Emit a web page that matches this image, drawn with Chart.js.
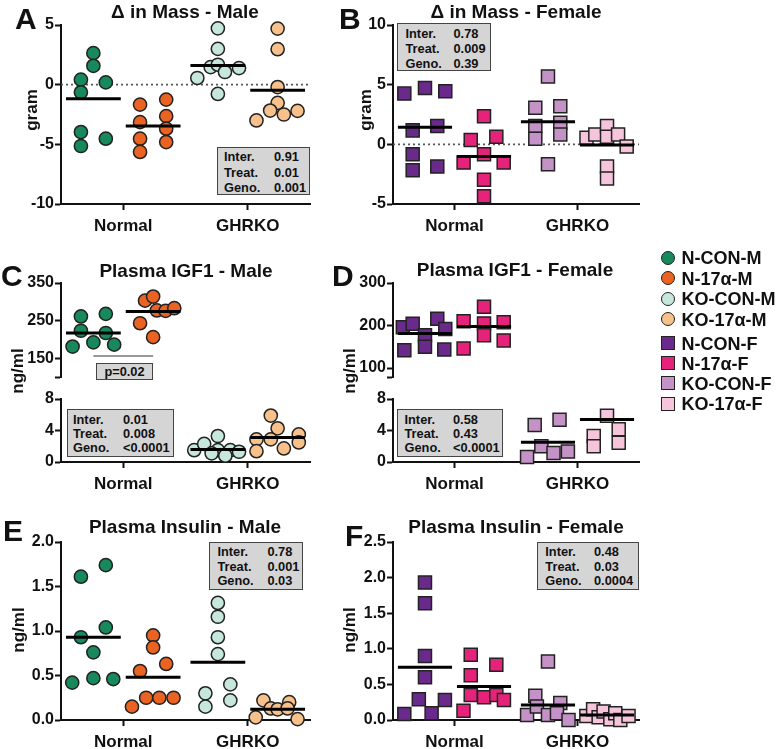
<!DOCTYPE html>
<html><head><meta charset="utf-8">
<script src="https://cdn.jsdelivr.net/npm/chart.js@4.4.0/dist/chart.umd.min.js"></script>
<style>
body{margin:0;background:#fff;}
#wrap{position:relative;width:780px;height:749px;overflow:hidden;font-family:'Liberation Sans',Arial,sans-serif;color:#111;}
canvas{position:absolute;}
.t{position:absolute;font-weight:bold;white-space:nowrap;line-height:1;}
.title{font-size:19px;transform:translateX(-50%);}
.letter{font-size:30px;}
.ylab{font-size:17px;transform:translate(-50%,-50%) rotate(-90deg);}
.box{position:absolute;background:#d5d5d5;border:1px solid #444;box-sizing:border-box;font-size:12.8px;font-weight:bold;white-space:nowrap;}
.box span{display:inline-block;}
.leg{position:absolute;font-size:18px;font-weight:bold;line-height:1;white-space:nowrap;}
.mk{position:absolute;width:12px;height:12px;border:1.4px solid #222;}
</style></head>
<body><div id="wrap"></div>
<script>
// ---------- data ----------
const categories = ['Normal', 'GHRKO'];
const maleGroups = ['N-CON-M', 'N-17α-M', 'KO-CON-M', 'KO-17α-M'];
const femaleGroups = ['N-CON-F', 'N-17α-F', 'KO-CON-F', 'KO-17α-F'];
const maleColors = ['#17895c', '#ea6322', '#c6e8dc', '#f8c08b'];
const femaleColors = ['#6a2a8c', '#e6237b', '#c592c8', '#f6c5dc'];

// A: Δ in Mass - Male (gram)
const massMaleValues = [
  [2.64, 1.58, 0.42, 0.19, -0.64, -3.97, -4.53, -5.14],
  [-1.67, -3.14, -4.53, -5.64, -1.25, -2.64, -3.69, -4.81],
  [4.72, 3.0, 1.47, 1.67, 1.06, 1.39, 0.56, -0.78],
  [4.7, 2.97, -0.2, -1.53, -2.17, -2.5, -2.2, -3.0]
];
const massMaleJitter = [
  [0, 0, -0.1, 0.1, -0.1, -0.1, 0.1, -0.1],
  [-0.105, -0.105, -0.105, -0.105, 0.105, 0.105, 0.105, 0.105],
  [0, 0, -0.058, 0, 0.057, 0.17, -0.165, 0],
  [0, 0, 0, 0, -0.06, 0.05, 0.16, -0.17]
];
const massMaleMeans = [-1.17, -3.47, 1.61, -0.47];
const massMaleStats = [['Inter.', '0.91'], ['Treat.', '0.01'], ['Geno.', '0.001']];

// B: Δ in Mass - Female (gram)
const massFemaleValues = [
  [4.25, 4.72, 4.44, 1.17, 1.53, -0.83, -2.17, -1.86],
  [2.36, 0.36, 0.64, -0.83, -1.53, -1.53, -2.97, -4.36],
  [5.69, 3.06, 3.19, 1.53, 1.81, 0.47, 0.83, -1.67],
  [0.56, 0.83, 1.53, 0.64, 0.83, -0.19, -1.86, -2.86]
];
const massFemaleJitter = [
  [-0.168, 0, 0.165, -0.1, 0.1, -0.1, -0.1, 0.1],
  [0, -0.108, 0.1, 0, -0.166, 0.16, 0, 0],
  [0, -0.103, 0.1, -0.103, 0.1, -0.103, 0.1, 0],
  [-0.167, -0.095, 0, 0, 0.09, 0.16, 0, 0]
];
const massFemaleMeans = [1.44, -1.03, 1.89, -0.05];
const massFemaleStats = [['Inter.', '0.78'], ['Treat.', '0.009'], ['Geno.', '0.39']];

// C: Plasma IGF1 - Male (ng/ml)
const igfMaleValues = [
  [261, 268, 223, 217, 192, 181, 186],
  [303, 314, 277, 276, 283, 243, 206],
  [1.5, 2.3, 3.3, 1.5, 1.5, 1.3, 0.8, 1.1],
  [5.9, 4.28, 2.87, 2.87, 1.37, 1.72, 3.5, 2.48]
];
const igfMaleJitter = [
  [-0.1, 0.1, -0.1, 0.1, 0, -0.167, 0.167],
  [-0.065, 0, 0.03, 0.1, 0.17, -0.105, 0],
  [-0.19, -0.11, 0, 0, 0.1, 0.17, 0.06, -0.05],
  [-0.055, 0, -0.055, -0.17, -0.17, 0.05, 0.17, 0.17]
];
const igfMaleMeans = [217, 274, 1.6, 3.1];
const igfMaleStats = [['Inter.', '0.01'], ['Treat.', '0.008'], ['Geno.', '<0.0001']];
const igfMaleBracketY = 156;
const igfMaleP = 'p=0.02';

// D: Plasma IGF1 - Female (ng/ml)
const igfFemaleValues = [
  [196, 204, 177, 216, 192, 142, 150, 143.5],
  [210, 244, 205, 208, 177, 165, 146],
  [4.7, 5.35, 2.0, 1.15, 1.33, 0.64],
  [5.86, 3.3, 2.0, 4.15, 2.44]
];
const igfFemaleJitter = [
  [-0.18, -0.1, 0, 0.1, 0.165, -0.168, 0, 0.157],
  [-0.166, 0, 0, 0.16, 0, 0.16, -0.166],
  [-0.108, 0.094, -0.054, 0.045, 0.162, -0.17],
  [0, -0.108, -0.108, 0.095, 0.095]
];
const igfFemaleMeans = [181, 198, 2.5, 5.4];
const igfFemaleStats = [['Inter.', '0.58'], ['Treat.', '0.43'], ['Geno.', '<0.0001']];

// E: Plasma Insulin - Male (ng/ml)
const insMaleValues = [
  [1.61, 1.74, 0.93, 1.04, 0.76, 0.42, 0.47, 0.46],
  [0.95, 0.815, 0.55, 0.63, 0.15, 0.25, 0.25, 0.25],
  [1.315, 1.16, 0.93, 0.74, 0.3, 0.4, 0.15, 0.22],
  [0.22, 0.2, 0.13, 0.12, 0.13, 0.03, 0.01]
];
const insMaleJitter = [
  [-0.1, 0.1, -0.1, 0.1, 0, -0.17, 0, 0.16],
  [0, 0, -0.105, 0.105, -0.17, -0.056, 0.05, 0.164],
  [0, 0, 0, 0, -0.1, 0.1, -0.1, 0.1],
  [-0.114, 0.093, -0.055, 0, 0.08, -0.176, 0.16]
];
const insMaleMeans = [0.93, 0.48, 0.65, 0.12];
const insMaleStats = [['Inter.', '0.78'], ['Treat.', '0.001'], ['Geno.', '0.03']];

// F: Plasma Insulin - Female (ng/ml)
const insFemaleValues = [
  [1.93, 1.64, 0.9, 0.6, 0.085, 0.29, 0.094, 0.28],
  [0.915, 0.63, 0.775, 0.13, 0.35, 0.32, 0.35, 0.28],
  [0.82, 0.34, 0.24, 0.07, 0.19, 0.07, 0.094, 0.0],
  [0.056, 0.15, 0.04, 0.12, 0.01, 0.094, 0.0, 0.056]
];
const insFemaleJitter = [
  [0, 0, 0, 0, -0.168, -0.05, 0.054, 0.162],
  [-0.108, -0.108, 0.1, -0.167, -0.108, 0, 0.1, 0.162],
  [0, -0.103, 0.1, -0.17, -0.09, 0, 0.073, 0.167],
  [-0.168, -0.113, -0.068, -0.028, 0.027, 0.067, 0.108, 0.175]
];
const insFemaleMeans = [0.74, 0.47, 0.21, 0.07];
const insFemaleStats = [['Inter.', '0.48'], ['Treat.', '0.03'], ['Geno.', '0.0004']];

// ---------- drawing ----------
const groupOffsets = [-0.24, 0.24];
const meanHalf = 0.22;
const wrap = document.getElementById('wrap');
Chart.defaults.font.family = "'Liberation Sans', Arial, sans-serif";

function groupCenter(g) { return Math.floor(g / 2) + 1 + groupOffsets[g % 2]; }

function makePanel(p) {
  const padT = 12, padR = 14, padB = p.showX ? 4 : 12;
  const xH = p.showX ? 38 : 0;
  const cv = document.createElement('canvas');
  cv.width = p.yW + p.w + padR;
  cv.height = padT + p.h + xH + padB;
  cv.style.left = (p.x - p.yW) + 'px';
  cv.style.top = (p.y - padT) + 'px';
  wrap.appendChild(cv);
  const datasets = [];
  if (p.zero) {
    datasets.push({data: [{x: 0.5, y: 0}, {x: 2.5, y: 0}], showLine: true, borderDash: [2, 3],
      borderColor: '#555', borderWidth: 1.6, pointRadius: 0, order: 3});
  }
  (p.extra || []).forEach(d => datasets.push(d));
  p.groups.forEach(g => {
    const c = groupCenter(g);
    datasets.push({
      data: p.values[g].map((v, k) => ({x: c + p.jitter[g][k], y: v})),
      pointStyle: p.style, pointRadius: p.style === 'rect' ? 9.2 : 6.6,
      backgroundColor: p.colors[g], borderColor: '#222', borderWidth: 1.5, order: 2, clip: false
    });
    datasets.push({
      data: [{x: c - meanHalf, y: p.means[g]}, {x: c + meanHalf, y: p.means[g]}],
      showLine: true, borderColor: '#000', borderWidth: 3, pointRadius: 0, order: 1, clip: false
    });
  });
  const gridOpts = {display: true, drawOnChartArea: false, drawTicks: true, tickLength: 6, tickWidth: 2, tickColor: '#111'};
  const borderOpts = {display: true, color: '#111', width: 2};
  new Chart(cv, {
    type: 'scatter',
    data: {datasets},
    options: {
      responsive: false, animation: false, devicePixelRatio: 1, events: [],
      layout: {padding: {top: padT, right: padR, bottom: padB, left: 0}},
      plugins: {legend: {display: false}, tooltip: {enabled: false}},
      scales: {
        x: {type: 'linear', min: 0.5, max: 2.5, display: p.showX,
          afterBuildTicks: a => { a.ticks = categories.map((c, i) => ({value: i + 1})); },
          afterFit: s => { s.height = xH; },
          ticks: {callback: v => categories[v - 1] || '', font: {size: 17, weight: 'bold'}, color: '#111',
            padding: 6, maxRotation: 0, autoSkip: false},
          grid: gridOpts, border: borderOpts},
        y: {type: 'linear', min: p.min, max: p.max,
          afterBuildTicks: a => { a.ticks = p.ticks.map(v => ({value: v})); },
          afterFit: s => { s.width = p.yW; },
          ticks: {callback: p.fmt, font: {size: 16, weight: 'bold'}, color: '#111', padding: 1, autoSkip: false},
          grid: gridOpts, border: borderOpts}
      }
    }
  });
}

const intFmt = v => String(v);
const decFmt = v => v.toFixed(1);
const L = {x: 61, w: 249, yW: 61};
const R = {x: 393, w: 246, yW: 41};

// A
makePanel({...L, y: 25, h: 179, showX: true, min: -10, max: 5, ticks: [-10, -5, 0, 5], fmt: intFmt,
  groups: [0, 1, 2, 3], values: massMaleValues, jitter: massMaleJitter, means: massMaleMeans,
  colors: maleColors, style: 'circle', zero: true});
// B
makePanel({...R, y: 25, h: 179, showX: true, min: -5, max: 10, ticks: [-5, 0, 5, 10], fmt: intFmt,
  groups: [0, 1, 2, 3], values: massFemaleValues, jitter: massFemaleJitter, means: massFemaleMeans,
  colors: femaleColors, style: 'rect', zero: true});
// C upper / lower
const cUpperTicks = [100, 150, 250, 350], cUpperLabels = [150, 250, 350];
makePanel({...L, y: 283, h: 94, showX: false, min: 100, max: 350, ticks: cUpperTicks,
  fmt: v => cUpperLabels.includes(v) ? String(v) : '',
  groups: [0, 1], values: igfMaleValues, jitter: igfMaleJitter, means: igfMaleMeans,
  colors: maleColors, style: 'circle',
  extra: [{data: [{x: groupCenter(0), y: igfMaleBracketY}, {x: groupCenter(1), y: igfMaleBracketY}],
    showLine: true, borderColor: '#777', borderWidth: 1.5, pointRadius: 0, order: 3, clip: false}]});
makePanel({...L, y: 399, h: 63, showX: true, min: 0, max: 8, ticks: [0, 4, 8], fmt: intFmt,
  groups: [2, 3], values: igfMaleValues, jitter: igfMaleJitter, means: igfMaleMeans,
  colors: maleColors, style: 'circle'});
// D upper / lower
const dUpperTicks = [79, 100, 200, 300], dUpperLabels = [100, 200, 300];
makePanel({...R, y: 283, h: 94, showX: false, min: 79, max: 300, ticks: dUpperTicks,
  fmt: v => dUpperLabels.includes(v) ? String(v) : '',
  groups: [0, 1], values: igfFemaleValues, jitter: igfFemaleJitter, means: igfFemaleMeans,
  colors: femaleColors, style: 'rect'});
makePanel({...R, y: 399, h: 63, showX: true, min: 0, max: 8, ticks: [0, 4, 8], fmt: intFmt,
  groups: [2, 3], values: igfFemaleValues, jitter: igfFemaleJitter, means: igfFemaleMeans,
  colors: femaleColors, style: 'rect'});
// E
makePanel({...L, y: 542, h: 178, showX: true, min: 0, max: 2, ticks: [0, 0.5, 1, 1.5, 2], fmt: decFmt,
  groups: [0, 1, 2, 3], values: insMaleValues, jitter: insMaleJitter, means: insMaleMeans,
  colors: maleColors, style: 'circle'});
// F
makePanel({...R, y: 542, h: 178, showX: true, min: 0, max: 2.5, ticks: [0, 0.5, 1, 1.5, 2, 2.5], fmt: decFmt,
  groups: [0, 1, 2, 3], values: insFemaleValues, jitter: insFemaleJitter, means: insFemaleMeans,
  colors: femaleColors, style: 'rect'});

// ---------- text ----------
function addText(cls, txt, css) {
  const d = document.createElement('div');
  d.className = 't ' + cls; d.textContent = txt;
  Object.assign(d.style, css); wrap.appendChild(d); return d;
}
// titles
addText('title', 'Δ in Mass - Male', {left: '185px', top: '1.5px'});
addText('title', 'Δ in Mass - Female', {left: '516px', top: '1.5px'});
addText('title', 'Plasma IGF1 - Male', {left: '186px', top: '261px'});
addText('title', 'Plasma IGF1 - Female', {left: '515px', top: '260px'});
addText('title', 'Plasma Insulin - Male', {left: '185px', top: '517px'});
addText('title', 'Plasma Insulin - Female', {left: '516px', top: '517px'});
// panel letters
[['A', 15, 3.5], ['B', 339, 4], ['C', 1, 261], ['D', 332, 261], ['E', 3, 516], ['F', 345, 521]]
  .forEach(([l, x, y]) => addText('letter', l, {left: x + 'px', top: y + 'px'}));
// y axis titles
[['gram', 31, 110], ['gram', 365, 110], ['ng/ml', 17, 371], ['ng/ml', 349, 371], ['ng/ml', 18, 630], ['ng/ml', 349, 630]]
  .forEach(([t, x, y]) => addText('ylab', t, {left: x + 'px', top: y + 'px'}));

// stats boxes
function statBox(rows, left, top, w, h, padL, labW, lineH, padTop) {
  const b = document.createElement('div');
  b.className = 'box';
  Object.assign(b.style, {left: left + 'px', top: top + 'px', width: w + 'px', height: h + 'px',
    paddingLeft: padL + 'px', paddingTop: padTop + 'px', lineHeight: lineH + 'px'});
  rows.forEach(r => {
    const row = document.createElement('div');
    const a = document.createElement('span'); a.style.width = labW + 'px'; a.textContent = r[0];
    const v = document.createElement('span'); v.textContent = r[1];
    row.appendChild(a); row.appendChild(v); b.appendChild(row);
  });
  wrap.appendChild(b);
}
statBox(massMaleStats, 217, 147, 93, 48, 6, 50, 15.3, 1.3);
statBox(massFemaleStats, 397, 23, 94, 48, 7.5, 48, 15, 1.9);
statBox(igfMaleStats, 67, 409, 107, 48, 5, 50, 14, 3.3);
statBox(igfFemaleStats, 397, 409, 106, 48, 6.5, 48.5, 14, 3);
statBox(insMaleStats, 209, 542, 94, 48, 7.4, 50, 14.7, 2);
statBox(insFemaleStats, 537, 542, 102, 48, 7.3, 48.7, 14.7, 2);
// p value box
const pb = document.createElement('div');
pb.className = 'box';
Object.assign(pb.style, {left: '96px', top: '363px', width: '57px', height: '17px', lineHeight: '15px', textAlign: 'center'});
pb.textContent = igfMaleP;
wrap.appendChild(pb);

// legend
const legendRows = [258, 278.5, 299, 319.5, 343.5, 363.7, 383.8, 404];
maleGroups.concat(femaleGroups).forEach((name, i) => {
  const female = i >= 4;
  const col = female ? femaleColors[i - 4] : maleColors[i];
  const m = document.createElement('div');
  m.className = 'mk';
  Object.assign(m.style, {left: (668 - 7.4) + 'px', top: (legendRows[i] - 7.4) + 'px', background: col,
    borderRadius: female ? '0' : '50%'});
  wrap.appendChild(m);
  const t = document.createElement('div');
  t.className = 'leg'; t.textContent = name;
  Object.assign(t.style, {left: '681.5px', top: (legendRows[i] - 9) + 'px'});
  wrap.appendChild(t);
});
</script>
</body></html>
